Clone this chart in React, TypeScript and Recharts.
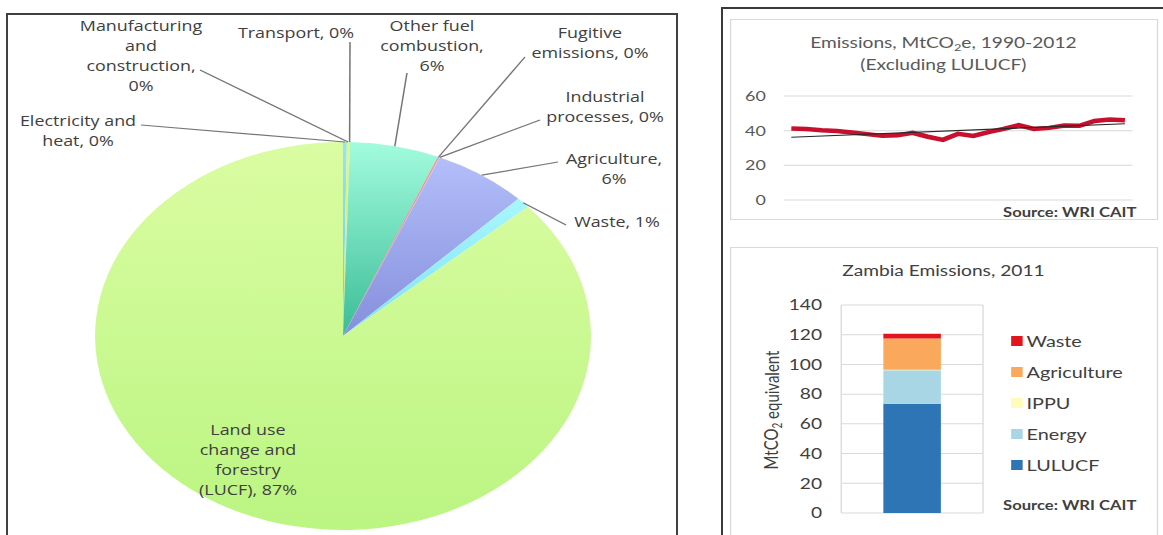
import React from 'react';
import { PieChart, Pie, Cell, LineChart, Line, BarChart, Bar, XAxis, YAxis, CartesianGrid, Legend } from 'recharts';

// the source picture is stretched sideways, so every chart is drawn narrow and scaled in x
const SX = 1.278;

// ---- pie: emissions by sector, % of total
const pieNames = [
  'Electricity and heat',
  'Manufacturing and construction',
  'Transport',
  'Other fuel combustion',
  'Fugitive emissions',
  'Industrial processes',
  'Agriculture',
  'Waste',
  'Land use change and forestry (LUCF)',
];
const pieShares = [0.25, 0.15, 0.05, 5.8, 0.1, 0.05, 6.1, 0.9, 86.6];
const pieTop = ['#93e6f7', '#e4f77e', '#c8f59a', '#a2fcde', '#f69483', '#d9a6e8', '#b3befa', '#a8f6fd', '#dafca2'];
const pieBottom = ['#6ccbe2', '#c9e860', '#b0e880', '#3bbc96', '#df6b5b', '#b888d0', '#858fdc', '#7ee3f3', '#bbf582'];

// label text split the way the original wraps it, '#' = rounded share
const pieLabelLines = [
  ['Electricity and', 'heat, #%'],
  ['Manufacturing', 'and', 'construction,', '#%'],
  ['Transport, #%'],
  ['Other fuel', 'combustion,', '#%'],
  ['Fugitive', 'emissions, #%'],
  ['Industrial', 'processes, #%'],
  ['Agriculture,', '#%'],
  ['Waste, #%'],
  ['Land use', 'change and', 'forestry', '(LUCF), #%'],
];

// ---- line: emissions excluding LULUCF
const years = ['1990', '1991', '1992', '1993', '1994', '1995', '1996', '1997', '1998', '1999', '2000', '2001',
  '2002', '2003', '2004', '2005', '2006', '2007', '2008', '2009', '2010', '2011', '2012'];
const emissions = [41.2, 41.0, 40.3, 39.8, 39.0, 38.0, 37.0, 37.3, 38.8, 36.5, 34.7, 38.2,
  37.0, 39.2, 41.0, 43.2, 41.0, 41.6, 43.0, 42.8, 45.6, 46.4, 46.0];
const trendEnds = [36.2, 44.0];
const lineTicks = [0, 20, 40, 60];

// ---- stacked bar: Zambia 2011
const barSeries = ['LULUCF', 'Energy', 'IPPU', 'Agriculture', 'Waste'];
const barValues = [73.5, 22.5, 0.4, 21, 3.2];
const barColors = ['#2e75b6', '#a9d6e5', '#fffbb8', '#f9a85c', '#e0161c'];
const barTicks = [0, 20, 40, 60, 80, 100, 120, 140];

// pie placement (page px)
const PIE_LEFT = 8;
const PIE_TOP = 15;
const PIE_CX = (343 - PIE_LEFT) / SX;
const PIE_CY = 336 - PIE_TOP;

// where each pie label sits (page px): text centre, first line middle, leader start
const pieLabelPos = [
  { x: 78, y: 121, lx: 141, ly: 125 },
  { x: 141, y: 26, lx: 200, ly: 70 },
  { x: 296, y: 33, lx: 350, ly: 42 },
  { x: 432, y: 26, lx: 407, ly: 73 },
  { x: 590, y: 33, lx: 525, ly: 57 },
  { x: 605, y: 97, lx: 540, ly: 120 },
  { x: 614, y: 159, lx: 558, ly: 162 },
  { x: 617, y: 222, lx: 566, ly: 225 },
  { x: 248, y: 430 },
];

const pieData = pieNames.map((name, i) => ({ name, value: pieShares[i] }));

const lineData = years.map((year, i) => ({
  year,
  value: emissions[i],
  trend: i === 0 ? trendEnds[0] : i === years.length - 1 ? trendEnds[1] : null,
}));

const barRow: Record<string, any> = { name: '2011' };
barSeries.forEach((s, i) => { barRow[s] = barValues[i]; });
const barData = [barRow];

const RAD = Math.PI / 180;
const labelFont = "'Open Sans', sans-serif";
const gill = "Lato, sans-serif";

const renderPieLabel = (props: any) => {
  const { cx, cy, midAngle, outerRadius, index } = props;
  const pos = pieLabelPos[index];
  const tx = (pos.x - PIE_LEFT) / SX;
  const ty = pos.y - PIE_TOP;
  const pct = String(Math.round(pieShares[index]));
  const lines = pieLabelLines[index].map(s => s.replace('#', pct));
  const ex = cx + outerRadius * Math.cos(-midAngle * RAD);
  const ey = cy + outerRadius * Math.sin(-midAngle * RAD);
  return (
    <g key={`pl-${index}`}>
      {pos.lx !== undefined && (
        <line x1={(pos.lx - PIE_LEFT) / SX} y1={pos.ly! - PIE_TOP} x2={ex} y2={ey} stroke="#767676" strokeWidth={1.2} />
      )}
      <text x={tx} y={ty} textAnchor="middle" fontFamily={labelFont} fontSize={14} fill="#404040">
        {lines.map((s, i) => (
          <tspan key={i} x={tx} dy={i === 0 ? '0.35em' : 20}>{s}</tspan>
        ))}
      </text>
    </g>
  );
};

const renderBarLegend = (props: any) => {
  const payload = [...(props.payload || [])].sort(
    (a: any, b: any) => barSeries.indexOf(b.value) - barSeries.indexOf(a.value)
  );
  return (
    <div style={{ fontFamily: gill, fontSize: 15.5, color: '#404040' }}>
      {payload.map((p: any) => (
        <div key={p.value} style={{ height: 31, display: 'flex', alignItems: 'center' }}>
          <span style={{ width: 9, height: 10, background: p.color, marginRight: 3, display: 'inline-block' }} />
          <span>{p.value}</span>
        </div>
      ))}
    </div>
  );
};

const stretched = (left: number, top: number, width: number, height: number): React.CSSProperties => ({
  position: 'absolute',
  left,
  top,
  width,
  height,
  transform: `scaleX(${SX})`,
  transformOrigin: '0 0',
});

export default function App() {
  return (
    <div style={{ position: 'absolute', left: 0, top: 0, width: 1163, height: 535, overflow: 'hidden', background: '#fff' }}>
      {/* pie frame */}
      <div style={{ position: 'absolute', left: 6, top: 13, width: 672, height: 600, boxSizing: 'border-box', border: '2px solid #404040' }} />

      <div style={stretched(PIE_LEFT, PIE_TOP, 523, 520)}>
        <PieChart width={523} height={520} margin={{ top: 0, right: 0, bottom: 0, left: 0 }}>
          <defs>
            {pieNames.map((_, i) => (
              <linearGradient key={i} id={`pieGrad${i}`} x1="0" y1="0" x2="0" y2="1">
                <stop offset="0%" stopColor={pieTop[i]} />
                <stop offset="100%" stopColor={pieBottom[i]} />
              </linearGradient>
            ))}
          </defs>
          <Pie
            data={pieData}
            dataKey="value"
            nameKey="name"
            cx={PIE_CX}
            cy={PIE_CY}
            outerRadius={194}
            startAngle={90}
            endAngle={-270}
            stroke="none"
            label={renderPieLabel}
            labelLine={false}
            isAnimationActive={false}
          >
            {pieData.map((_, i) => (
              <Cell key={`c-${i}`} fill={`url(#pieGrad${i})`} />
            ))}
          </Pie>
        </PieChart>
      </div>

      {/* right-hand panel frame */}
      <div style={{ position: 'absolute', left: 721, top: 7, width: 600, height: 600, borderLeft: '2px solid #3a3a3a', borderTop: '2px solid #3a3a3a' }} />

      {/* line chart */}
      <div style={{ ...stretched(730, 19, 335, 201), boxSizing: 'border-box', border: '1px solid #d9d9d9' }}>
        <LineChart width={333} height={199} data={lineData} margin={{ top: 76, right: 19, bottom: 19, left: 0 }}>
          <CartesianGrid vertical={false} stroke="#d9d9d9" />
          <XAxis dataKey="year" hide padding={{ left: 6, right: 6 }} />
          <YAxis
            domain={[0, 60]}
            ticks={lineTicks}
            width={41}
            axisLine={false}
            tickLine={false}
            tickSize={0}
            tickMargin={14}
            tick={{ fill: '#595959', fontSize: 14, fontFamily: gill }}
          />
          <Line dataKey="value" stroke="#c8102e" strokeWidth={4.5} dot={false} isAnimationActive={false} />
          <Line dataKey="trend" stroke="#262626" strokeWidth={1.2} dot={false} connectNulls isAnimationActive={false} />
          <text x={166} y={28} textAnchor="middle" fontFamily={gill} fontSize={15} fill="#595959">
            Emissions, MtCO<tspan fontSize={10} dy={3}>2</tspan><tspan dy={-3}>e, 1990-2012</tspan>
          </text>
          <text x={166} y={50} textAnchor="middle" fontFamily={gill} fontSize={15} fill="#595959">
            (Excluding LULUCF)
          </text>
          <text x={317} y={197} textAnchor="end" fontFamily={gill} fontSize={13} fontWeight="bold" fill="#404040">
            Source: WRI CAIT
          </text>
        </LineChart>
      </div>

      {/* stacked bar chart */}
      <div style={{ ...stretched(730, 247, 335, 300), boxSizing: 'border-box', border: '1px solid #d9d9d9' }}>
        <BarChart width={333} height={288} data={barData} margin={{ top: 57, right: 136, bottom: 23, left: 0 }} barSize={45}>
          <CartesianGrid
            stroke="#d9d9d9"
            verticalCoordinatesGenerator={(p: any) => (p && p.offset ? [p.offset.left, p.offset.left + p.offset.width] : [])}
          />
          <XAxis dataKey="name" hide />
          <YAxis
            domain={[0, 140]}
            ticks={barTicks}
            width={86}
            axisLine={false}
            tickLine={false}
            tickSize={0}
            tickMargin={15}
            tick={{ fill: '#404040', fontSize: 15, fontFamily: gill }}
          />
          {barSeries.map((s, i) => (
            <Bar key={s} dataKey={s} stackId="a" fill={barColors[i]} isAnimationActive={false} />
          ))}
          <Legend
            layout="vertical"
            align="center"
            verticalAlign="middle"
            wrapperStyle={{ left: 219, top: 77, width: 110 }}
            content={renderBarLegend}
          />
          <text x={166} y={28} textAnchor="middle" fontFamily={gill} fontSize={15} fill="#404040">
            Zambia Emissions, 2011
          </text>
          <text x={31} y={162} transform="rotate(-90 31 162)" textAnchor="middle" dominantBaseline="central" fontFamily={gill} fontSize={15} fill="#404040">
            MtCO<tspan fontSize={10} dy={4}>2</tspan><tspan dy={-4}> equivalent</tspan>
          </text>
          <text x={317} y={262} textAnchor="end" fontFamily={gill} fontSize={13} fontWeight="bold" fill="#404040">
            Source: WRI CAIT
          </text>
        </BarChart>
      </div>
    </div>
  );
}
